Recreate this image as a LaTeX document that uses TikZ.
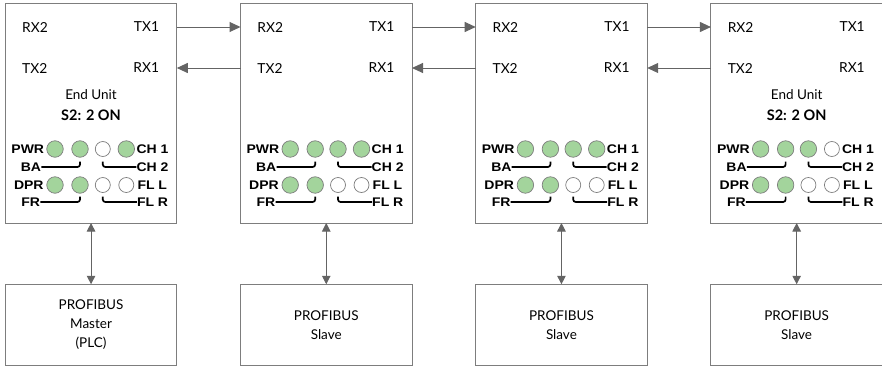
\documentclass[tikz,border=0pt]{standalone}
\usepackage{fontspec}
\setmainfont{Lato}
\newfontfamily\ledfont[FakeStretch=1.12]{Liberation Sans}
\usetikzlibrary{arrows.meta,calc}
\definecolor{ledgreen}{RGB}{163,212,156}
\definecolor{boxgray}{RGB}{125,125,125}
\definecolor{arrgray}{RGB}{100,100,100}
\tikzset{
  unitbox/.style={draw=boxgray, line width=0.9pt, minimum width=171.5pt, minimum height=220pt, inner sep=0pt, outer sep=0pt},
  basebox/.style={draw=boxgray, line width=0.9pt, minimum width=171.5pt, minimum height=81.5pt, inner sep=0pt, outer sep=0pt, align=center, font=\fontsize{13.5}{19}\selectfont},
  lbl/.style={font=\fontsize{13.8}{15}\selectfont, inner sep=0pt},
  ledlbl/.style={font=\ledfont\bfseries\fontsize{12.5}{13}\selectfont, inner sep=0pt},
  ledon/.style={circle, draw=boxgray, line width=0.7pt, fill=ledgreen, minimum size=16.5pt, inner sep=0pt},
  ledoff/.style={circle, draw=boxgray, line width=0.7pt, fill=white, minimum size=15pt, inner sep=0pt},
  led/.code={\ifnum#1=1 \tikzset{ledon}\else\tikzset{ledoff}\fi},
  link/.style={draw=arrgray, line width=1pt, -{Triangle[length=11pt,width=10pt]}},
  updown/.style={draw=arrgray, line width=1pt, {Triangle[length=8.5pt,width=8.5pt]}-{Triangle[length=8.5pt,width=8.5pt]}},
  bracket/.style={draw=black, line width=1.7pt, rounded corners=2.5pt}
}
\begin{document}
\begin{tikzpicture}[x=1pt,y=-1pt]
\useasboundingbox (0,0) rectangle (882,367);
\foreach \i/\sa/\sb/\sc/\sd/\se/\sf/\sg/\sh in {0/1/1/0/1/1/1/0/0, 1/1/1/1/1/1/1/0/0, 2/1/1/1/1/1/1/0/0, 3/1/1/1/0/1/1/0/0}{
  \pgfmathsetmacro\L{5.3+235.2*\i}
  \node[unitbox] (u\i) at (\L+85.75,113) {};
  \node[lbl, anchor=west] (rxa\i) at (\L+16.7,27) {RX2};
  \node[lbl, anchor=east] (txa\i) at (\L+154,27) {TX1};
  \node[lbl, anchor=west] (txb\i) at (\L+16.7,68) {TX2};
  \node[lbl, anchor=east] (rxb\i) at (\L+154,68) {RX1};
  \ifnum\i=1 \else\ifnum\i=2 \else
    \node[lbl, font=\fontsize{13.5}{15}\selectfont] (eu\i) at (\L+85.75,95) {End Unit};
    \node[lbl, font=\fontsize{14.5}{15}\selectfont\bfseries] (sw\i) at (\L+85.75,115) {S2: 2 ON};
  \fi\fi
  % LEDs
  \node[led=\sa] (la\i) at (\L+49.7,149) {};
  \node[led=\sb] (lb\i) at (\L+74.7,149) {};
  \node[led=\sc] (lc\i) at (\L+97.5,149) {};
  \node[led=\sd] (ld\i) at (\L+121,149) {};
  \node[led=\se] (le\i) at (\L+49.7,185) {};
  \node[led=\sf] (lf\i) at (\L+74.7,185) {};
  \node[led=\sg] (lg\i) at (\L+97.5,185) {};
  \node[led=\sh] (lh\i) at (\L+121,185) {};
  \node[ledlbl, anchor=east] (pwr\i) at (\L+39,149) {PWR};
  \node[ledlbl, anchor=east] (ba\i) at (\L+36,167) {BA};
  \node[ledlbl, anchor=east] (dpr\i) at (\L+38.5,185) {DPR};
  \node[ledlbl, anchor=east] (fr\i) at (\L+35,202) {FR};
  \node[ledlbl, anchor=west] (cha\i) at (\L+131,149) {CH 1};
  \node[ledlbl, anchor=west] (chb\i) at (\L+131,167) {CH 2};
  \node[ledlbl, anchor=west] (fll\i) at (\L+132,185) {FL L};
  \node[ledlbl, anchor=west] (flr\i) at (\L+131.5,202) {FL R};
  \draw[bracket] (ba\i.east) -| ($(lb\i.center)+(0,12.5)$);
  \draw[bracket] (chb\i.west) -| ($(lc\i.center)+(0,12.5)$);
  \draw[bracket] (fr\i.east) -| ($(lf\i.center)+(0,11.5)$);
  \draw[bracket] (flr\i.west) -| ($(lg\i.center)+(0,11.5)$);
  % base boxes
  \ifnum\i=0
    \node[basebox] (b\i) at (\L+85.75,325) {PROFIBUS\\Master\\(PLC)};
  \else
    \node[basebox] (b\i) at (\L+85.75,325) {PROFIBUS\\Slave};
  \fi
  \draw[updown] (u\i.south) -- (b\i.north);
}
\foreach \i/\j in {0/1,1/2,2/3}{
  \draw[link] (u\i.east |- txa\i) -- (u\j.west |- txa\i);
  \draw[link] (u\j.west |- rxb\i) -- (u\i.east |- rxb\i);
}
\end{tikzpicture}
\end{document}
